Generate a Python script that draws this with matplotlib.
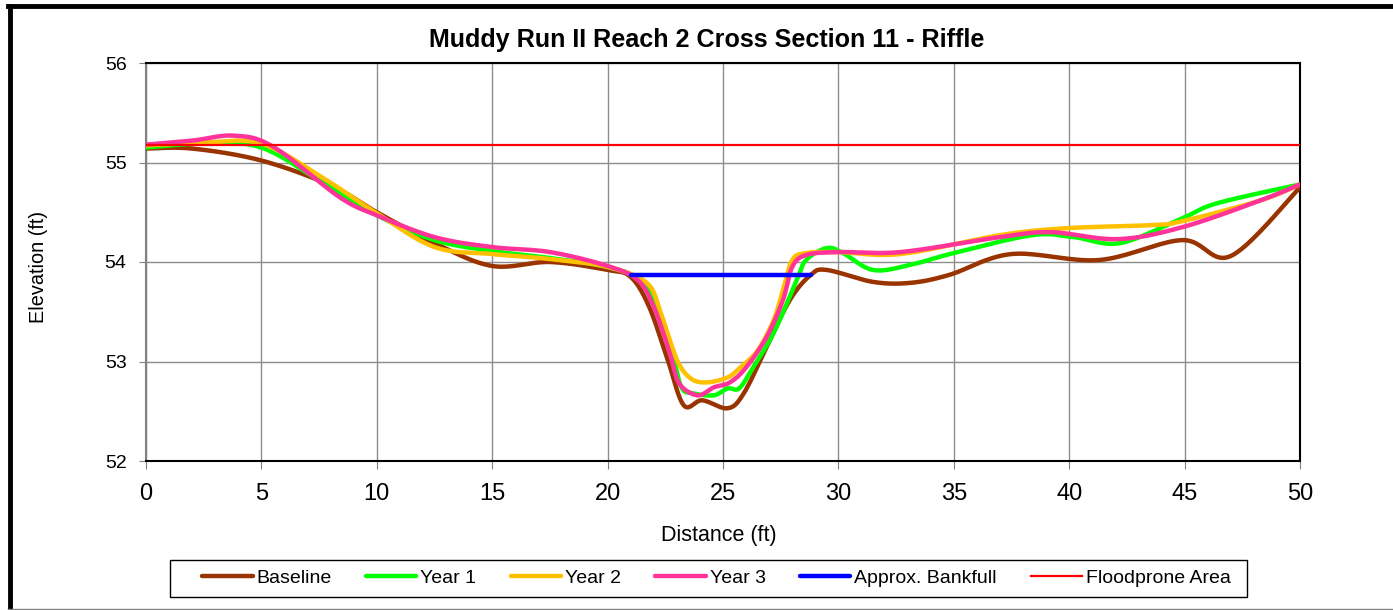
import numpy as np
import matplotlib
matplotlib.use("Agg")
import matplotlib.pyplot as plt
from matplotlib.lines import Line2D
from matplotlib.patches import Rectangle

# ---- data ----
base_x = [0, 2, 5, 8, 10, 12.5, 15, 17.5, 20, 21, 21.8, 22.6, 23.3, 24.1, 25.2, 25.9, 26.9, 27.9, 28.8, 29.5,
          31.5, 33.1, 34.8, 37.5, 41.3, 44.9, 47.0, 50]
base_y = [55.14, 55.14, 55.02, 54.77, 54.50, 54.19, 53.96, 54.0, 53.92, 53.85, 53.55, 53.02, 52.56, 52.61, 52.53,
          52.68, 53.15, 53.62, 53.87, 53.92, 53.80, 53.79, 53.87, 54.08, 54.02, 54.22, 54.06, 54.75]

y1_x = [0, 2.5, 5, 7.7, 10, 12.5, 15, 17.5, 20, 21.4, 22.1, 22.8, 23.2, 23.7, 24.6, 25.2, 25.7, 26.3, 27.2, 28.2,
        28.6, 29.5, 30.2, 31.5, 33.1, 35.0, 38.4, 40.2, 42.2, 44.9, 46.4, 50]
y1_y = [55.15, 55.19, 55.15, 54.79, 54.47, 54.22, 54.11, 54.04, 53.95, 53.82, 53.55, 53.08, 52.74, 52.68, 52.66,
        52.73, 52.73, 52.94, 53.29, 53.82, 54.02, 54.14, 54.09, 53.92, 53.97, 54.09, 54.27, 54.25, 54.19, 54.44,
        54.59, 54.78]

y2_x = [0, 2.5, 5, 7.7, 10, 12.5, 15, 17.5, 20, 21.7, 22.3, 23.0, 23.6, 24.3, 25.2, 25.7, 26.5, 27.2, 27.6, 28.0,
        28.6, 30, 32.7, 37.0, 39.9, 43.5, 44.9, 48.3, 50]
y2_y = [55.17, 55.2, 55.19, 54.84, 54.49, 54.15, 54.08, 54.03, 53.95, 53.79, 53.49, 53.02, 52.83, 52.79, 52.84,
        52.93, 53.11, 53.42, 53.72, 54.02, 54.09, 54.1, 54.08, 54.27, 54.34, 54.37, 54.41, 54.62, 54.78]

y3_x = [0, 2, 3.8, 5.5, 8.4, 10, 12.5, 15, 17.5, 20, 21.3, 22.0, 22.7, 23.1, 23.9, 24.6, 25.3, 26.0, 26.9, 27.6,
        28.0, 28.6, 30, 32.7, 37.0, 39.2, 42.1, 44.9, 48.3, 50]
y3_y = [55.18, 55.22, 55.27, 55.16, 54.65, 54.47, 54.25, 54.15, 54.1, 53.96, 53.82, 53.55, 53.08, 52.78, 52.66,
        52.74, 52.79, 52.94, 53.25, 53.62, 53.95, 54.07, 54.1, 54.10, 54.25, 54.30, 54.23, 54.35, 54.62, 54.78]

bank_x = [21.0, 28.8]
bank_y = [53.87, 53.87]
flood_x = [0, 50]
flood_y = [55.18, 55.18]

labels = ["Baseline", "Year 1", "Year 2", "Year 3", "Approx. Bankfull", "Floodprone Area"]
colors = ["#993300", "#00FF00", "#FFC000", "#FF3399", "#0000FF", "#FF0000"]


def smooth(x, y, n=20):
    """Catmull-Rom rendering of a polyline (like a spreadsheet smoothed line)."""
    p = np.column_stack([x, y]).astype(float)
    if len(p) < 3:
        return p[:, 0], p[:, 1]
    p = np.vstack([p[0], p, p[-1]])
    out = []
    t = np.linspace(0, 1, n, endpoint=False)
    for i in range(1, len(p) - 2):
        p0, p1, p2, p3 = p[i - 1], p[i], p[i + 1], p[i + 2]
        tt = t[:, None]
        seg = 0.5 * ((2 * p1) + (-p0 + p2) * tt + (2 * p0 - 5 * p1 + 4 * p2 - p3) * tt ** 2
                     + (-p0 + 3 * p1 - 3 * p2 + p3) * tt ** 3)
        out.append(seg)
    out.append(p[-2][None, :])
    out = np.vstack(out)
    return out[:, 0], out[:, 1]


plt.rcParams['font.family'] = ['Liberation Sans', 'DejaVu Sans']
W, H = 1393, 610
fig = plt.figure(figsize=(W / 100, H / 100), dpi=100)
ax = fig.add_axes([146 / W, 1 - 461 / H, (1300 - 146) / W, (461 - 63) / H])

series = [(base_x, base_y), (y1_x, y1_y), (y2_x, y2_y), (y3_x, y3_y)]
handles = []
for (xs, ys), lab, c in zip(series, labels[:4], colors[:4]):
    sx, sy = smooth(xs, ys)
    h, = ax.plot(sx, sy, color=c, lw=3.2, label=lab, solid_capstyle='round', zorder=3)
    handles.append(h)
h, = ax.plot(bank_x, bank_y, color=colors[4], lw=3.2, label=labels[4], solid_capstyle='round', zorder=4)
handles.append(h)
h, = ax.plot(flood_x, flood_y, color=colors[5], lw=1.6, label=labels[5], zorder=5)
handles.append(h)

ax.set_xlim(0, 50)
ax.set_ylim(52, 56)
ax.set_xticks(np.arange(0, 51, 5))
ax.set_yticks([52, 53, 54, 55, 56])
ax.grid(True, color='#8c8c8c', lw=1.0)
ax.set_axisbelow(True)
for s in ['top', 'right', 'bottom']:
    ax.spines[s].set_color('black')
    ax.spines[s].set_linewidth(1.5)
ax.spines['left'].set_color('#808080')
ax.spines['left'].set_linewidth(1.5)
ax.tick_params(axis='x', labelsize=17, length=6, color='#808080', direction='out', pad=10)
ax.tick_params(axis='y', labelsize=14, length=5, color='#808080', direction='out', pad=9)

fig.text(707 / W, 1 - 40 / H, "Muddy Run II Reach 2 Cross Section 11 - Riffle", ha='center', va='center',
         fontsize=18.1, fontweight='bold')
fig.text(719 / W, 1 - 535 / H, "Distance (ft)", ha='center', va='center', fontsize=15.5)
fig.text(38 / W, 1 - 267 / H, "Elevation (ft)", ha='center', va='center', fontsize=14.3, rotation=90)

leg = fig.legend(handles=handles, labels=labels, loc='center left', bbox_to_anchor=(202 / W, 1 - 578 / H),
                 ncol=6, frameon=False, fontsize=14, borderpad=0, borderaxespad=0,
                 handlelength=2.6, handletextpad=0.2, columnspacing=1.76)

fig.add_artist(Rectangle((170 / W, 1 - 597 / H), (1247 - 170) / W, 37 / H, transform=fig.transFigure,
                         fill=False, edgecolor='black', lw=1.0))

# chart area border
fig.add_artist(Line2D([9.5 / W, 9.5 / W], [1 - 5.5 / H, 1 - 608 / H], transform=fig.transFigure,
                      color='black', lw=3.5))
fig.add_artist(Line2D([8 / W, 1.0], [1 - 5.5 / H, 1 - 5.5 / H], transform=fig.transFigure,
                      color='black', lw=3.5))
fig.add_artist(Line2D([8 / W, 1.0], [1 - 608.5 / H, 1 - 608.5 / H], transform=fig.transFigure,
                      color='#808080', lw=1.0))

fig.savefig("out.png", dpi=100)
